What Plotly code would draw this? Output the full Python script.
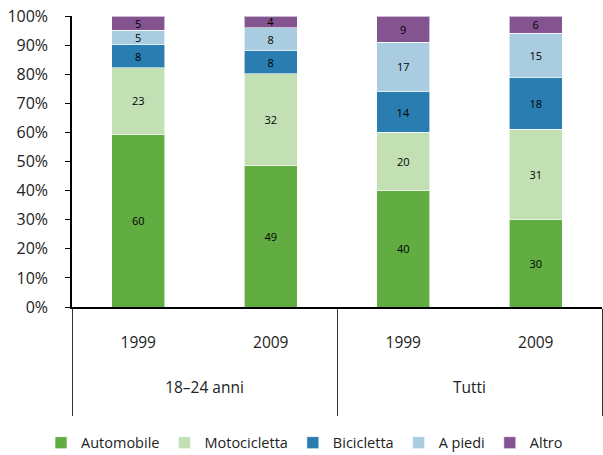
import plotly.graph_objects as go

groups = ["18–24 anni", "18–24 anni", "Tutti", "Tutti"]
years = ["1999", "2009", "1999", "2009"]

series = ["Automobile", "Motocicletta", "Bicicletta", "A piedi", "Altro"]
automobile = [60, 49, 40, 30]
motocicletta = [23, 32, 20, 31]
bicicletta = [8, 8, 14, 18]
a_piedi = [5, 8, 17, 15]
altro = [5, 4, 9, 6]
values = [automobile, motocicletta, bicicletta, a_piedi, altro]
colors = ["#62ad42", "#c2e0b4", "#2a7db0", "#aacce0", "#845491"]

FONT = "Open Sans"
NBSP = "\u00a0"

# padded labels give the two-level category axis its tall layout
year_labels = [
    f"{NBSP}<br>{y}<br><span style='font-size:21px'>{NBSP}</span>" for y in years
]
group_labels = [f"{g}<br><span style='font-size:8px'>{NBSP}</span>" for g in groups]

fig = go.Figure()
for name, vals, col in zip(series, values, colors):
    fig.add_trace(go.Bar(
        x=[group_labels, year_labels],
        y=vals,
        name=name,
        width=0.4,
        marker=dict(color=col, line=dict(color="rgba(255,255,255,0.6)", width=1)),
        text=[str(v) for v in vals],
        textposition="inside",
        insidetextanchor="middle",
        textangle=0,
        textfont=dict(family=FONT, size=11, color="black"),
        constraintext="none",
        hoverinfo="skip",
    ))

fig.update_layout(
    barmode="stack",
    barnorm="percent",
    width=603,
    height=455,
    margin=dict(l=72, r=1, t=16, b=148, autoexpand=False),
    paper_bgcolor="white",
    plot_bgcolor="white",
    font=dict(family=FONT, size=15, color="#222"),
    showlegend=True,
    legend=dict(
        orientation="h",
        xref="container", yref="container",
        x=0.505, xanchor="center",
        y=0.027, yanchor="middle",
        font=dict(family=FONT, size=14.5, color="#222"),
        itemwidth=30,
        traceorder="normal",
        tracegroupgap=0,
    ),
    uniformtext=dict(minsize=8, mode="show"),
)

fig.update_yaxes(
    range=[0, 100],
    tickvals=[0, 10, 20, 30, 40, 50, 60, 70, 80, 90, 100],
    ticktext=[f"{v}%" for v in range(0, 101, 10)],
    showgrid=False,
    zeroline=False,
    showline=True,
    linecolor="black",
    linewidth=1.5,
    ticks="outside",
    ticklen=5,
    tickcolor="black",
    ticklabelstandoff=14,
    automargin=False,
    tickfont=dict(family=FONT, size=16, color="#222"),
)

fig.update_xaxes(
    showgrid=False,
    showline=True,
    linecolor="black",
    linewidth=1.5,
    ticks="",
    showdividers=True,
    dividercolor="#333",
    dividerwidth=1,
    automargin=False,
    tickfont=dict(family=FONT, size=15.5, color="#222"),
)

fig.write_html("out.html")
